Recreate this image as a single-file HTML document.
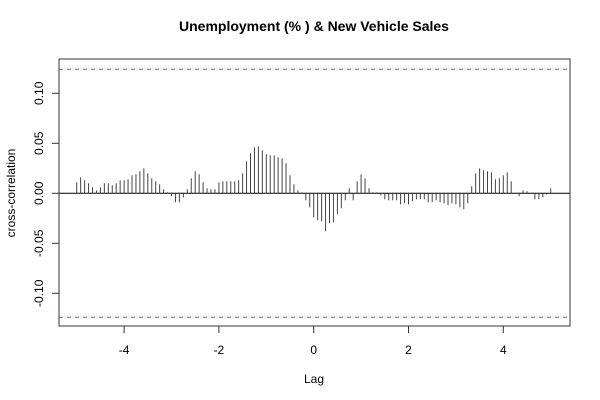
<!DOCTYPE html>
<html><head><meta charset="utf-8"><style>
body{margin:0;background:#fff}
svg{display:block;font-family:"Liberation Sans",Arial,sans-serif}
</style></head><body>
<svg id="chart" width="600" height="400">
<text x="314" y="31" text-anchor="middle" font-size="14" font-weight="bold">Unemployment (% ) &amp; New Vehicle Sales</text>
<text x="314" y="383" text-anchor="middle" font-size="12">Lag</text>
<text transform="translate(15,193) rotate(-90)" text-anchor="middle" font-size="12">cross-correlation</text>
<g id="bars"></g>
<rect x="59" y="59" width="511" height="267" fill="none" stroke="#333"/>
<g id="axes"></g>
</svg>
<script>
const values = [
0.011,0.016,0.013,0.010,0.006,0.003,0.006,0.010,0.010,0.008,0.010,0.013,
0.013,0.014,0.018,0.019,0.022,0.025,0.020,0.015,0.012,0.009,0.004,0.001,
-0.003,-0.009,-0.009,-0.004,0.004,0.015,0.022,0.019,0.011,0.005,0.004,0.004,
0.011,0.012,0.012,0.012,0.012,0.013,0.020,0.032,0.040,0.046,0.047,0.043,
0.039,0.038,0.038,0.036,0.035,0.030,0.018,0.009,0.003,0.001,-0.007,-0.014,
-0.024,-0.027,-0.028,-0.038,-0.030,-0.029,-0.021,-0.015,-0.007,0.005,-0.007,0.012,
0.019,0.015,0.005,0.001,0.001,-0.002,-0.006,-0.007,-0.007,-0.007,-0.011,-0.010,
-0.011,-0.008,-0.006,-0.006,-0.006,-0.009,-0.009,-0.007,-0.009,-0.010,-0.012,-0.010,
-0.011,-0.014,-0.016,-0.010,0.007,0.020,0.025,0.023,0.022,0.021,0.014,0.015,
0.018,0.021,0.012,0.000,-0.003,0.003,0.002,0.000,-0.006,-0.006,-0.004,-0.001,
0.005];
const lagStart = -5, lagStep = 1/12;
const xTicks = [-4,-2,0,2,4];
const yTicks = [-0.10,-0.05,0.00,0.05,0.10];
const ciLevel = 0.124;
const NS="http://www.w3.org/2000/svg";
const X = l => 313.7 + l*47.4;
const Y = v => 193.3 - v*1000;
const bars=document.getElementById('bars'), axes=document.getElementById('axes');
function mk(tag,attrs,parent){const e=document.createElementNS(NS,tag);for(const k in attrs)e.setAttribute(k,attrs[k]);parent.appendChild(e);return e;}
let z=mk('line',{x1:59,x2:570,y1:Y(0),y2:Y(0),stroke:'#000'},bars);


values.forEach((v,i)=>{const x=X(lagStart+i*lagStep);
 const b=mk('line',{x1:x,x2:x,y1:Y(0),y2:Y(v),stroke:'#444','stroke-width':1},bars);
 
 
});
[ciLevel,-ciLevel].forEach(c=>{const d=mk('line',{x1:59,x2:570,y1:Y(c),y2:Y(c),stroke:'#5a5ae0','stroke-dasharray':'4,4'},bars);
 
 
});
xTicks.forEach(t=>{const x=X(t);
 const l=mk('line',{x1:x,x2:x,y1:326,y2:333,stroke:'#333'},axes);
 
 
 const tx=mk('text',{x:x,y:354,'text-anchor':'middle','font-size':12},axes);tx.textContent=String(t);
 
 
});
yTicks.forEach(t=>{const y=Y(t);
 const l=mk('line',{x1:52,x2:59,y1:y,y2:y,stroke:'#333'},axes);
 
 
 const tx=mk('text',{transform:`translate(43,${y}) rotate(-90)`,'text-anchor':'middle','font-size':12},axes);tx.textContent=t.toFixed(2);
 
 
});
</script>
</body></html>
